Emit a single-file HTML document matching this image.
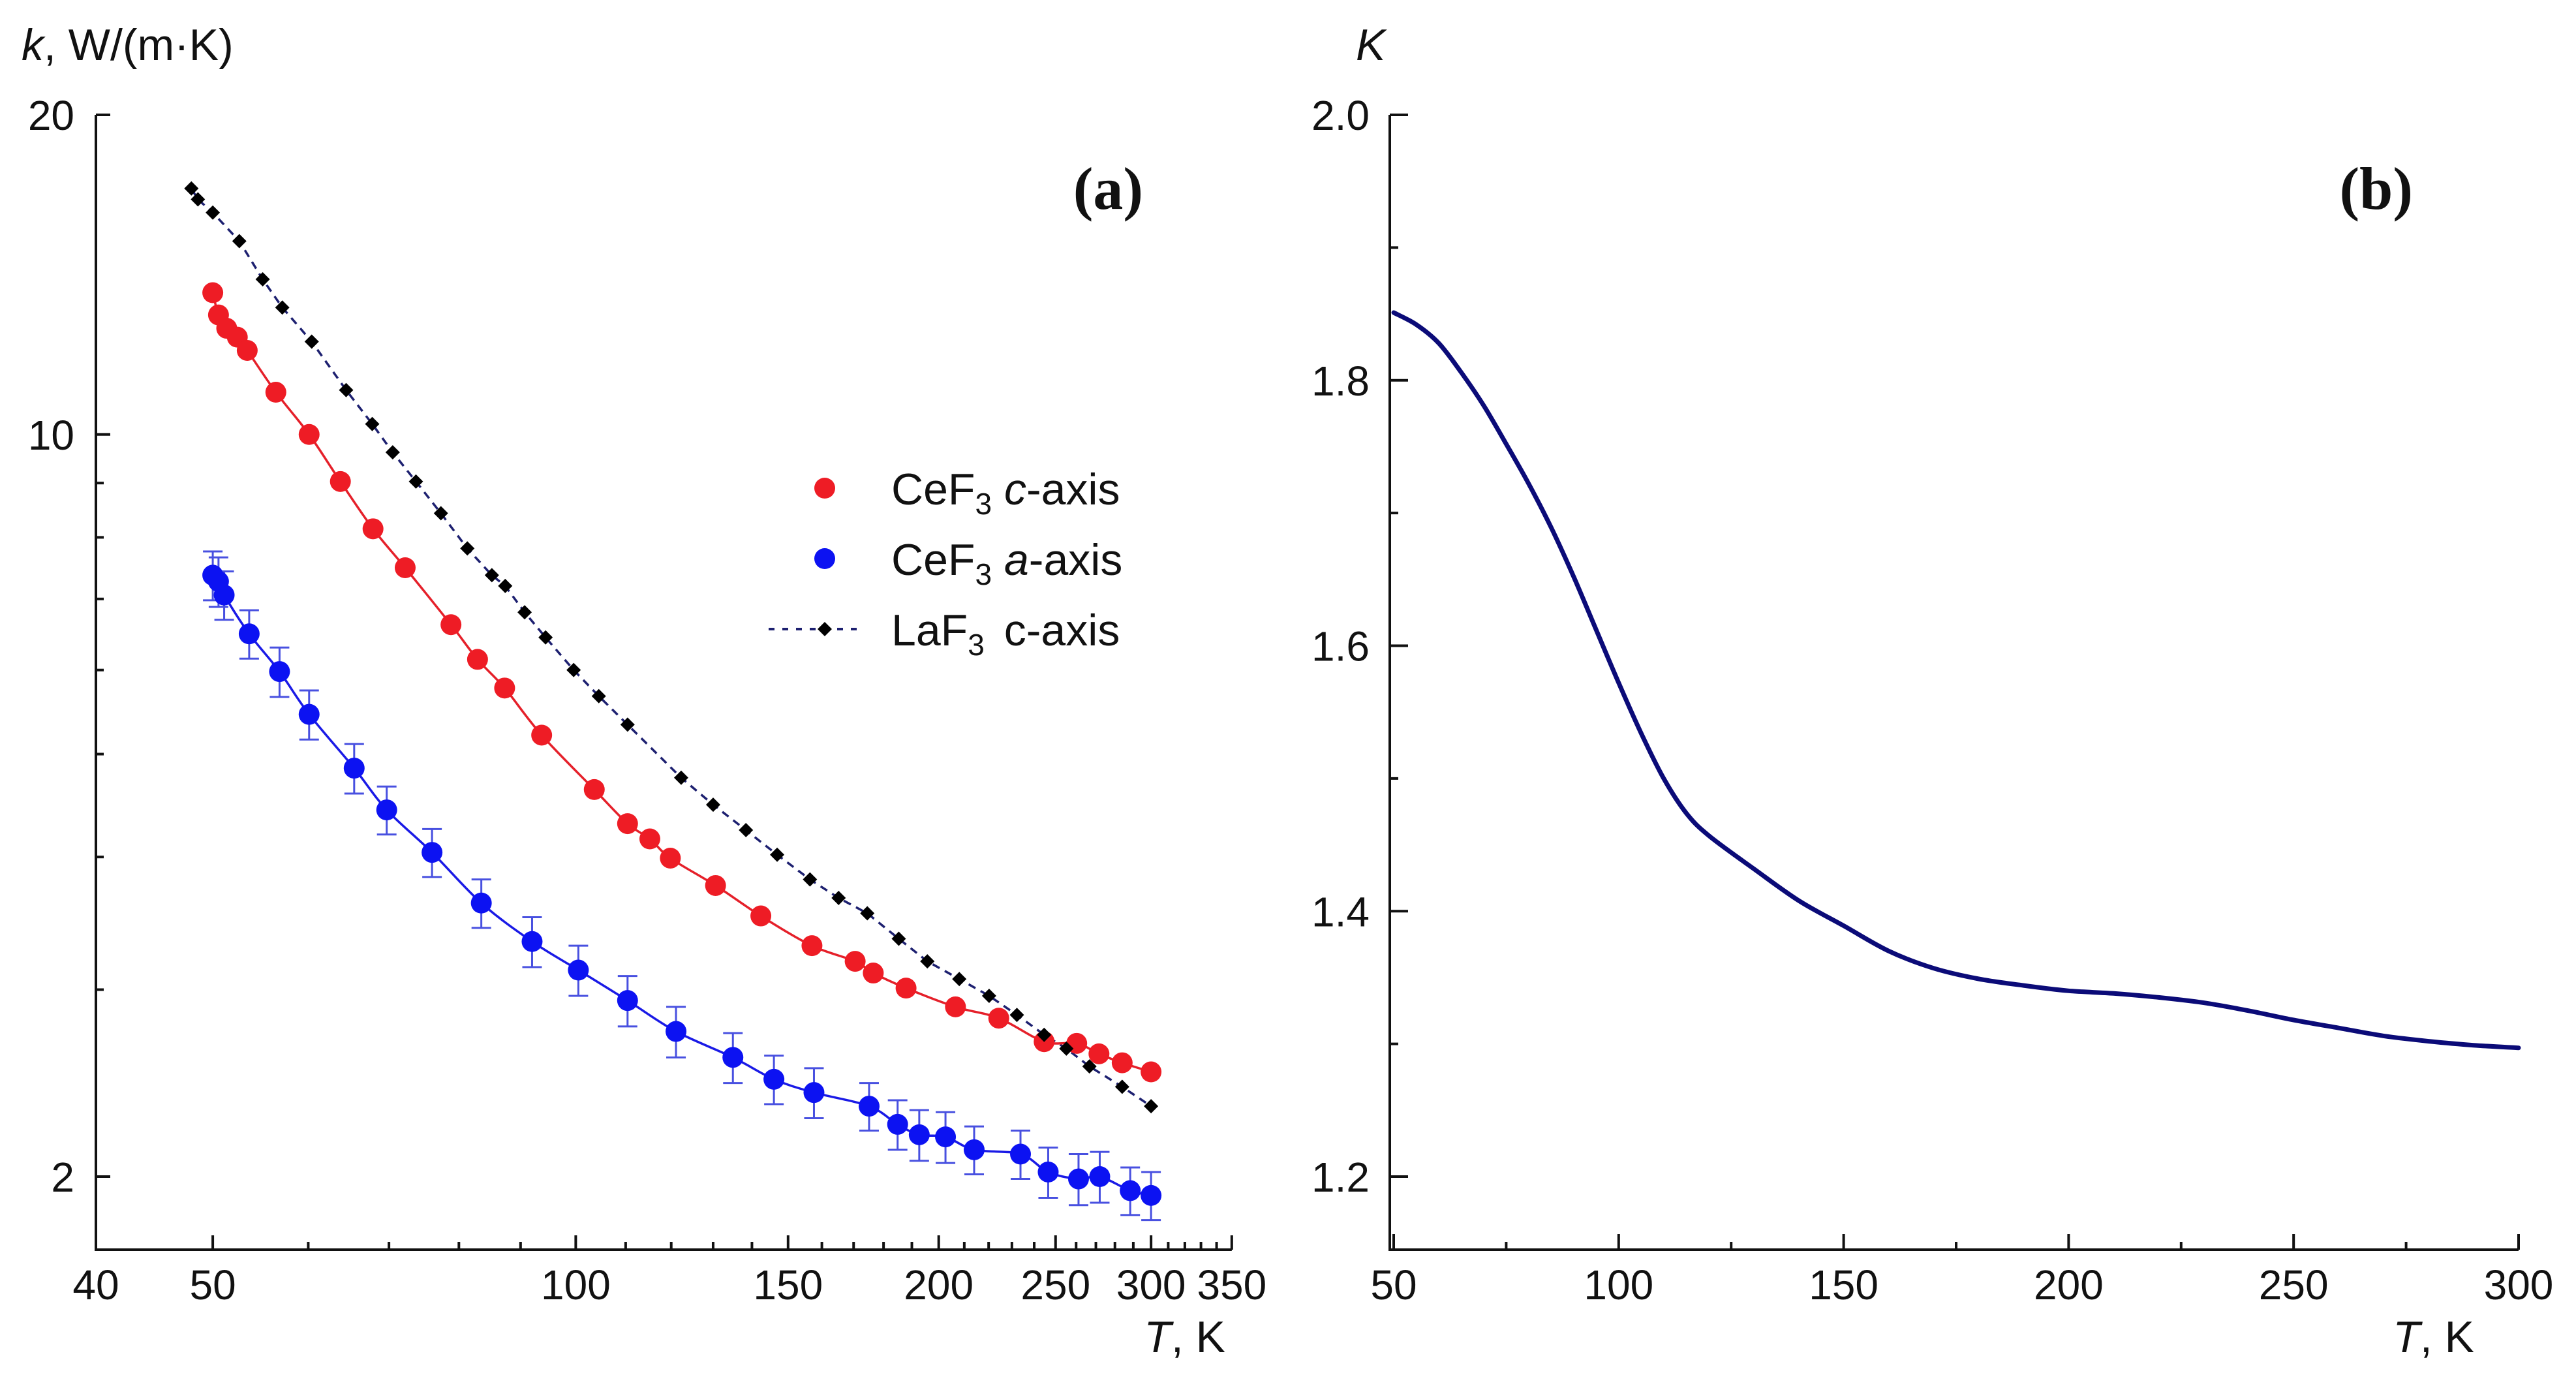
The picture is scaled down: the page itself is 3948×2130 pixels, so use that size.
<!DOCTYPE html>
<html><head><meta charset="utf-8">
<style>
html,body{margin:0;padding:0;background:#fff;}
svg{display:block;font-family:"Liberation Sans",sans-serif;}
</style></head>
<body>
<svg id="fig" xmlns="http://www.w3.org/2000/svg" width="3948" height="2130" viewBox="0 0 3948 2130">
<rect width="3948" height="2130" fill="#fff"/>
</svg>
<script>
// ---- Panel (a) data ----
const redT = [50,50.55,51.35,52.4,53.4,56.4,60.1,63.8,67.9,72.2,78.8,82.9,87.3,93.7,103.6,110.4,115.2,119.8,130.6,142.4,157,170.5,176.5,187.9,206.5,224.3,244.6,260.3,271.6,283.9,300];
const redK = [13.6,12.96,12.59,12.35,12.0,10.96,10.0,9.03,8.15,7.49,6.62,6.14,5.77,5.21,4.63,4.30,4.16,3.99,3.76,3.52,3.30,3.19,3.11,3.01,2.89,2.82,2.68,2.67,2.61,2.56,2.51];
const blueT = [50,50.55,51.1,53.6,56.8,60.1,65.5,69.7,76.0,83.5,92.0,100.5,110.4,121.1,135,146,157.6,175.1,184.9,192.7,202.6,214,233.8,246.5,261.2,272,288.3,300];
const blueK = [7.37,7.27,7.06,6.49,5.98,5.45,4.85,4.43,4.04,3.62,3.33,3.13,2.93,2.74,2.59,2.47,2.40,2.33,2.24,2.19,2.18,2.12,2.10,2.02,1.99,2.00,1.94,1.92];
const blueErr = [0.39,0.39,0.37,0.34,0.32,0.29,0.26,0.23,0.21,0.19,0.18,0.17,0.16,0.15,0.14,0.13,0.13,0.12,0.12,0.12,0.12,0.11,0.11,0.11,0.11,0.11,0.10,0.10];
const laT = [48.0,48.6,50,52.6,55.0,57.1,60.4,64.5,67.8,70.5,73.7,77.3,81.3,85.2,87.4,90.7,94.4,99.6,104.5,110.4,122.3,130,138.4,146.9,156.4,165.2,174.5,185.3,195.7,208,220.2,232.2,244.6,255.2,266.7,283.9,300];
const laK = [17.05,16.65,16.18,15.21,14.0,13.17,12.23,11.01,10.23,9.62,9.03,8.43,7.81,7.37,7.20,6.80,6.44,6.00,5.67,5.33,4.75,4.48,4.24,4.02,3.81,3.66,3.54,3.35,3.19,3.07,2.96,2.84,2.72,2.64,2.54,2.43,2.33];
const aXTickLabels = [40,50,100,150,200,250,300,350];
const aXMinor = [60,70,80,90,110,120,130,140,160,170,180,190,210,220,230,240,260,270,280,290,310,320,330,340];
const aYTickLabels = [2,10,20];
const aYMinor = [3,4,5,6,7,8,9];
// ---- Panel (b) data ----
const bT = [50,55,60,65,70,75,80,85,90,95,100,105,110,115,120,130,140,150,160,170,180,190,200,210,220,230,240,250,260,270,280,290,300];
const bK = [1.851,1.842,1.828,1.806,1.781,1.752,1.722,1.689,1.652,1.612,1.572,1.534,1.500,1.474,1.457,1.432,1.408,1.389,1.370,1.357,1.349,1.344,1.340,1.338,1.335,1.331,1.325,1.318,1.312,1.306,1.302,1.299,1.297];
const bXTickLabels = [50,100,150,200,250,300];
const bXMinor = [75,125,175,225,275];
const bYTickLabels = ["1.2","1.4","1.6","1.8","2.0"];
const bYMinor = [1.3,1.5,1.7,1.9];

const NS="http://www.w3.org/2000/svg";
const svg=document.getElementById('fig');
function mk(tag,attrs,parent){const e=document.createElementNS(NS,tag);for(const k in attrs)e.setAttribute(k,attrs[k]);(parent||svg).appendChild(e);return e;}

const axL=147, axB=1915, axT=176;
function ax(t){return 147+1848*Math.log10(t/40);}
const axR=ax(350);
function ay(k){return 176+1627*Math.log10(20/k);}
const bxL=2130;
function bx(t){return 2136+(t-50)*(3860-2136)/250;}
function by(k){return 176+(2.0-k)*(1803-176)/0.8;}

function smooth(pts){
  let d='M'+pts[0][0].toFixed(1)+','+pts[0][1].toFixed(1);
  for(let i=0;i<pts.length-1;i++){
    const p0=pts[Math.max(i-1,0)],p1=pts[i],p2=pts[i+1],p3=pts[Math.min(i+2,pts.length-1)];
    const c1=[p1[0]+(p2[0]-p0[0])/6,p1[1]+(p2[1]-p0[1])/6];
    const c2=[p2[0]-(p3[0]-p1[0])/6,p2[1]-(p3[1]-p1[1])/6];
    d+=' C'+c1[0].toFixed(1)+','+c1[1].toFixed(1)+' '+c2[0].toFixed(1)+','+c2[1].toFixed(1)+' '+p2[0].toFixed(1)+','+p2[1].toFixed(1);
  }
  return d;
}
function txt(s,x,y,size,anchor,extra,parent){const e=mk('text',Object.assign({x:x,y:y,'font-size':size,'text-anchor':anchor||'start',fill:'#111'},extra||{}),parent);e.textContent=s;return e;}

// ===== Panel a =====
const ga=mk('g',{});


const aAxes=mk('path',{d:`M${axL},${axT} V${axB} H${axR}`,stroke:'#111','stroke-width':4,fill:'none'},ga);


aXTickLabels.forEach(t=>{
  const x=ax(t);
  if(t!==40) mk('line',{x1:x,y1:axB,x2:x,y2:axB-22,stroke:'#111','stroke-width':4},ga);
  const l=txt(String(t),x,1991,64,'middle',{},ga);
  
  
});
aXMinor.forEach(t=>{const x=ax(t);mk('line',{x1:x,y1:axB,x2:x,y2:axB-12,stroke:'#111','stroke-width':4},ga);});
aYTickLabels.forEach(k=>{
  const y=ay(k);
  mk('line',{x1:axL,y1:y,x2:axL+22,y2:y,stroke:'#111','stroke-width':4},ga);
  const l=txt(String(k),114,y+23,64,'end',{},ga);
  
  
});
aYMinor.forEach(k=>{const y=ay(k);mk('line',{x1:axL,y1:y,x2:axL+12,y2:y,stroke:'#111','stroke-width':4},ga);});
const yta=txt('',33,92,68,'start',{},ga);
yta.innerHTML='<tspan font-style="italic">k</tspan>, W/(m·K)';


const xta=txt('',1878,2072,68,'end',{},ga);
xta.innerHTML='<tspan font-style="italic">T</tspan>, K';


const la=txt('(a)',1752,320,92,'end',{'font-family':'"Liberation Serif",serif','font-weight':'bold'},ga);



const laLine=mk('path',{d:laT.map((t,i)=>(i?'L':'M')+ax(t).toFixed(1)+','+ay(laK[i]).toFixed(1)).join(' '),stroke:'#1d2070','stroke-width':3.5,fill:'none','stroke-dasharray':'12 9'},ga);


const rl=mk('path',{d:smooth(redT.map((t,i)=>[ax(t),ay(redK[i])])),stroke:'#e5202a','stroke-width':3.5,fill:'none'},ga);


const bl=mk('path',{d:smooth(blueT.map((t,i)=>[ax(t),ay(blueK[i])])),stroke:'#1a1ae6','stroke-width':3.5,fill:'none'},ga);


blueT.forEach((t,i)=>{
  const x=ax(t),y1=ay(blueK[i]+blueErr[i]),y2=ay(blueK[i]-blueErr[i]);
  const eb=mk('path',{d:`M${x-15},${y1} H${x+15} M${x},${y1} V${y2} M${x-15},${y2} H${x+15}`,stroke:'#4850e0','stroke-width':3,fill:'none'},ga);
  
  
});
redT.forEach((t,i)=>{
  const c=mk('circle',{cx:ax(t),cy:ay(redK[i]),r:16,fill:'#ee1c25'},ga);
  
  
});
blueT.forEach((t,i)=>{
  const c=mk('circle',{cx:ax(t),cy:ay(blueK[i]),r:16,fill:'#0c12f2'},ga);
  
  
});
laT.forEach((t,i)=>{
  const x=ax(t),y=ay(laK[i]);
  const d=mk('path',{d:`M${x},${y-11} L${x+11},${y} L${x},${y+11} L${x-11},${y} Z`,fill:'#000'},ga);
  
  
});
const lg=mk('g',{},ga);


const le1=mk('g',{},lg);


mk('circle',{cx:1264,cy:748,r:16,fill:'#ee1c25'},le1);
txt('',1366,773,68,'start',{},le1).innerHTML='CeF<tspan font-size="46" dy="15">3</tspan><tspan dy="-15"> </tspan><tspan font-style="italic">c</tspan>-axis';
const le2=mk('g',{},lg);


mk('circle',{cx:1264,cy:856,r:16,fill:'#0c12f2'},le2);
txt('',1366,881,68,'start',{},le2).innerHTML='CeF<tspan font-size="46" dy="15">3</tspan><tspan dy="-15"> </tspan><tspan font-style="italic">a</tspan>-axis';
const le3=mk('g',{},lg);


mk('line',{x1:1178,y1:964,x2:1318,y2:964,stroke:'#1d2070','stroke-width':4,'stroke-dasharray':'9 12'},le3);
mk('path',{d:'M1264,953 L1275,964 L1264,975 L1253,964 Z',fill:'#000'},le3);
txt('',1366,989,68,'start',{'xml:space':'preserve'},le3).innerHTML='LaF<tspan font-size="46" dy="15">3</tspan><tspan dy="-15" dx="30">c-axis</tspan>';

// ===== Panel b =====
const gb=mk('g',{});


const bAxes=mk('path',{d:`M${bxL},176 V${axB} H${bx(300)}`,stroke:'#111','stroke-width':4,fill:'none'},gb);


bXTickLabels.forEach(t=>{
  const x=bx(t);
  mk('line',{x1:x,y1:axB,x2:x,y2:axB-24,stroke:'#111','stroke-width':4},gb);
  const l=txt(String(t),x,1991,64,'middle',{},gb);
  
  
});
bXMinor.forEach(t=>{const x=bx(t);mk('line',{x1:x,y1:axB,x2:x,y2:axB-12,stroke:'#111','stroke-width':4},gb);});
bYTickLabels.forEach(s=>{
  const y=by(parseFloat(s));
  mk('line',{x1:bxL,y1:y,x2:bxL+28,y2:y,stroke:'#111','stroke-width':4},gb);
  const l=txt(s,2099,y+23,64,'end',{},gb);
  
  
});
bYMinor.forEach(k=>{const y=by(k);mk('line',{x1:bxL,y1:y,x2:bxL+13,y2:y,stroke:'#111','stroke-width':4},gb);});
const ytb=txt('K',2078,92,68,'start',{'font-style':'italic'},gb);


const xtb=txt('',3792,2072,68,'end',{},gb);
xtb.innerHTML='<tspan font-style="italic">T</tspan>, K';


const lb=txt('(b)',3698,320,92,'end',{'font-family':'"Liberation Serif",serif','font-weight':'bold'},gb);


const kc=mk('path',{d:smooth(bT.map((t,i)=>[bx(t),by(bK[i])])),stroke:'#0b0b78','stroke-width':7,fill:'none','stroke-linecap':'round'},gb);


</script>
</body></html>
